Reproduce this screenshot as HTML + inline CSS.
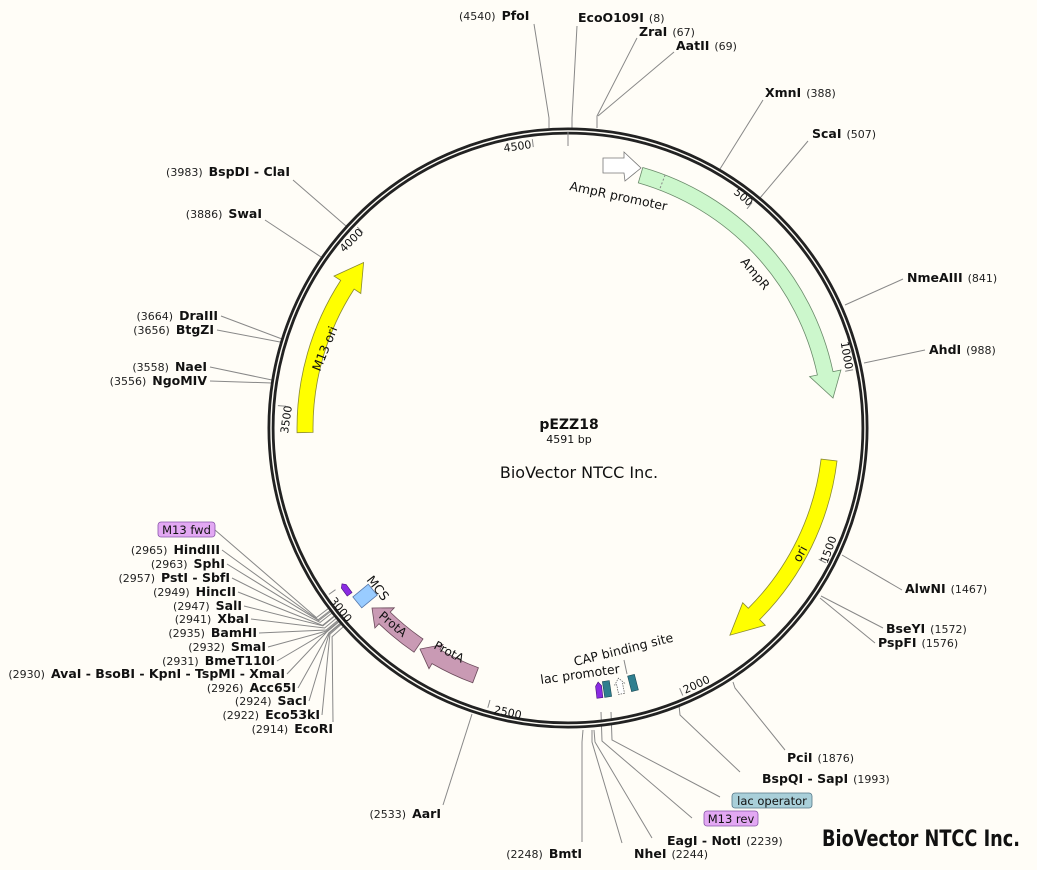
<!DOCTYPE html>
<html><head><meta charset="utf-8"><style>
html,body{margin:0;padding:0;background:#fffdf7;}
svg{display:block;}
text{font-family:"DejaVu Sans","Liberation Sans",sans-serif;fill:#111;}
.n{font-size:11px;fill:#222;}
.b{font-size:12.5px;font-weight:bold;}
.f{font-size:12.5px;fill:#222;}
.t{font-size:11px;fill:#222;}
line,polyline{stroke:#888;stroke-width:1;fill:none;}
</style></head><body>
<svg width="1037" height="870" viewBox="0 0 1037 870" xmlns="http://www.w3.org/2000/svg">
<rect width="1037" height="870" fill="#fffdf7"/>

<g>
<polyline points="534,24 549,118 549,128"/>
<polyline points="577,26 572,118 572,128"/>
<polyline points="637,38 597,116 597,128"/>
<polyline points="674,52 598,116"/>
<line x1="763" y1="100" x2="720" y2="169"/>
<line x1="808" y1="141" x2="760" y2="198"/>
<line x1="903" y1="279" x2="845" y2="305"/>
<line x1="925" y1="350" x2="864" y2="363"/>
<line x1="902" y1="590" x2="842" y2="555"/>
<line x1="883" y1="628" x2="821" y2="596"/>
<line x1="875" y1="643" x2="820" y2="598"/>
<polyline points="785,750 735,688 733,682"/>
<polyline points="740,772 680,715 679,705"/>
<polyline points="720,797 612,740 611,712"/>
<polyline points="692,818 602,741 601,712"/>
<polyline points="652,838 595,742 594,730"/>
<polyline points="622,843 592,742 592,730"/>
<polyline points="582,842 582,742 583,730"/>
<line x1="443" y1="805" x2="472" y2="714"/>
<line x1="293" y1="180" x2="346" y2="226"/>
<line x1="265" y1="220" x2="321" y2="257"/>
<line x1="221" y1="316" x2="282" y2="339"/>
<line x1="217" y1="330" x2="280" y2="342"/>
<line x1="210" y1="367" x2="272" y2="380"/>
<line x1="210" y1="381" x2="272" y2="383"/>
<polyline points="215,530 316.4,617.6 328.4,608.5"/>
<polyline points="222,550 318.1,619.8 330,610.6"/>
<polyline points="227,564 318.8,620.6 330.6,611.5"/>
<polyline points="232,578 320.1,622.4 331.9,613.1"/>
<polyline points="238,592 322.5,625.4 334.2,616"/>
<polyline points="244,606 322.9,625.8 334.5,616.4"/>
<polyline points="251,619 324.6,628 336.2,618.4"/>
<polyline points="259,633 326.3,630 337.8,620.4"/>
<polyline points="268,647 327,630.9 338.5,621.2"/>
<polyline points="277,661 327.4,631.3 338.9,621.7"/>
<polyline points="287,674 327.4,631.3 338.9,621.7"/>
<polyline points="298,688 328.8,633 340.2,623.2"/>
<polyline points="309,701 329.2,633.4 340.6,623.6"/>
<polyline points="322,715 329.9,634.2 341.2,624.4"/>
<polyline points="333,722 332.1,636.7 343.3,626.8"/>
</g>

<circle cx="568" cy="428" r="297" fill="none" stroke="#222" stroke-width="7"/>
<circle cx="568" cy="428" r="297" fill="none" stroke="#fffdf7" stroke-width="1.4"/>

<g stroke="#111" stroke-width="1.6">
<line x1="568" y1="132" x2="568" y2="146" stroke-width="3"/>
<line x1="752.1" y1="202.5" x2="747" y2="208.8"/>
<line x1="853.1" y1="369.7" x2="845.2" y2="371.3"/>
<line x1="825.8" y1="562.9" x2="818.7" y2="559.2"/>
<line x1="682.8" y1="695.6" x2="679.6" y2="688.2"/>
<line x1="487.8" y1="707.7" x2="490" y2="700"/>
<line x1="328.9" y1="594.4" x2="335.5" y2="589.7"/>
<line x1="277.9" y1="405.6" x2="286" y2="406.3"/>
<line x1="357.3" y1="227.1" x2="363" y2="232.8"/>
<line x1="532.3" y1="139.2" x2="533.3" y2="147.1"/>
</g>
<g class="t">
<text transform="translate(518,150) rotate(-8)" text-anchor="middle">4500</text>
<text transform="translate(741,200) rotate(40)" text-anchor="middle">500</text>
<text transform="translate(843,356) rotate(80)" text-anchor="middle">1000</text>
<text transform="translate(832,551) rotate(-70)" text-anchor="middle">1500</text>
<text transform="translate(698,688) rotate(-25)" text-anchor="middle">2000</text>
<text transform="translate(507,716) rotate(12)" text-anchor="middle">2500</text>
<text transform="translate(338,612) rotate(52)" text-anchor="middle">3000</text>
<text transform="translate(290,420) rotate(-82)" text-anchor="middle">3500</text>
<text transform="translate(354,243) rotate(-45)" text-anchor="middle">4000</text>
</g>

<path d="M603,158 L624,158 L624,152 L641,168 L625,181 L624,173 L603,173 Z" fill="#fff" stroke="#777" stroke-width="0.8"/>
<path d="M642.8,167.5 A271,271 0 0 1 833,371.6 L840.9,370 L833,398 L809.6,376.6 L817.4,375 A255,255 0 0 0 638.3,182.9 Z" fill="#ccf7cc" stroke="#6a8a6a" stroke-width="0.8"/>
<line x1="665.1" y1="175" x2="659.4" y2="190" stroke="#222" stroke-dasharray="2,2"/>
<path d="M837,461 A271,271 0 0 1 759.6,619.6 L765.3,625.3 L729.9,635.2 L742.7,602.7 L748.3,608.3 A255,255 0 0 0 821.1,459.1 Z" fill="#ffff00" stroke="#8a8a30" stroke-width="0.8"/>
<path d="M297.05,432.7 A271,271 0 0 1 340.7,280.4 L334,276.1 L363.6,262.5 L360.8,293.5 L354.1,289.1 A255,255 0 0 0 313.05,432.4 Z" fill="#ffff00" stroke="#8a8a30" stroke-width="0.8"/>
<path d="M472.7,682.8 A272,272 0 0 1 432,663.6 L429,668.7 L420,649 L443,644.5 L440,649.7 A256,256 0 0 0 478.4,667.8 Z" fill="#c99ab4" stroke="#6a4a5a" stroke-width="0.8"/>
<path d="M414,652.2 A272,272 0 0 1 379,623.7 L374.9,628 L372,608 L394.3,607.8 L390.2,612.1 A256,256 0 0 0 423,639 Z" fill="#c99ab4" stroke="#6a4a5a" stroke-width="0.8"/>
<g transform="translate(365,596) rotate(230.5)"><rect x="-7" y="-10" width="14" height="20" fill="#99ccff" stroke="#5577aa" stroke-width="0.8"/></g>
<g transform="translate(355,583) rotate(234)"><path d="M-6,-14 L4,-14 L7,-11 L4,-8 L-6,-8 Z" fill="#8a2be2" stroke="#441177" stroke-width="0.6"/></g>
<g transform="translate(599,690) rotate(173.5)"><path d="M-3,-8 L3,-8 L3,4 L0,8 L-3,4 Z" fill="#8a2be2" stroke="#441177" stroke-width="0.6"/></g>
<g transform="translate(607,689) rotate(171.5)"><rect x="-3.5" y="-8" width="7" height="16" fill="#2f7f8f" stroke="#1a4a55" stroke-width="0.6"/></g>
<g transform="translate(620,686) rotate(168.5)"><path d="M-3,-8 L3,-8 L3,2 L5,2 L0,8 L-5,2 L-3,2 Z" fill="#fff" stroke="#555" stroke-width="0.7" stroke-dasharray="1.5,1"/></g>
<g transform="translate(633,683) rotate(165.5)"><rect x="-3.5" y="-8" width="7" height="16" fill="#2f7f8f" stroke="#1a4a55" stroke-width="0.6"/></g>
<line x1="627" y1="674" x2="624" y2="660" stroke="#888"/>

<g class="f">
<text transform="translate(569,190) rotate(12)">AmpR promoter</text>
<text transform="translate(740,262) rotate(50)">AmpR</text>
<text transform="translate(800,563) rotate(-62)">ori</text>
<text transform="translate(320,372) rotate(-68)">M13 ori</text>
<text transform="translate(433,648) rotate(28)" font-size="12" fill="#222">ProtA</text>
<text transform="translate(378,617) rotate(40)" font-size="12" fill="#222">ProtA</text>
<text transform="translate(366,580) rotate(52)">MCS</text>
<text transform="translate(541,684) rotate(-8)">lac promoter</text>
<text transform="translate(575,666) rotate(-14)">CAP binding site</text>
</g>

<text x="569" y="429" text-anchor="middle" font-size="14" font-weight="bold">pEZZ18</text>
<text x="569" y="443" text-anchor="middle" font-size="11" fill="#222">4591 bp</text>
<text x="579" y="478" text-anchor="middle" font-size="16" fill="#222">BioVector NTCC Inc.</text>

<text x="459" y="20"><tspan class="n">(4540)</tspan><tspan class="b" dx="6">PfoI</tspan></text>
<text x="578" y="22"><tspan class="b">EcoO109I</tspan><tspan class="n" dx="5">(8)</tspan></text>
<text x="639" y="36"><tspan class="b">ZraI</tspan><tspan class="n" dx="5">(67)</tspan></text>
<text x="676" y="50"><tspan class="b">AatII</tspan><tspan class="n" dx="5">(69)</tspan></text>
<text x="765" y="97"><tspan class="b">XmnI</tspan><tspan class="n" dx="5">(388)</tspan></text>
<text x="812" y="138"><tspan class="b">ScaI</tspan><tspan class="n" dx="5">(507)</tspan></text>
<text x="907" y="282"><tspan class="b">NmeAIII</tspan><tspan class="n" dx="5">(841)</tspan></text>
<text x="929" y="354"><tspan class="b">AhdI</tspan><tspan class="n" dx="5">(988)</tspan></text>
<text x="905" y="593"><tspan class="b">AlwNI</tspan><tspan class="n" dx="5">(1467)</tspan></text>
<text x="886" y="633"><tspan class="b">BseYI</tspan><tspan class="n" dx="5">(1572)</tspan></text>
<text x="878" y="647"><tspan class="b">PspFI</tspan><tspan class="n" dx="5">(1576)</tspan></text>
<text x="787" y="762"><tspan class="b">PciI</tspan><tspan class="n" dx="5">(1876)</tspan></text>
<text x="762" y="783"><tspan class="b">BspQI - SapI</tspan><tspan class="n" dx="5">(1993)</tspan></text>
<rect x="732" y="793" width="80" height="15" rx="3" fill="#a9cfd9" stroke="#557788" stroke-width="0.8"/>
<text x="772" y="805" text-anchor="middle" font-size="11.5" fill="#222">lac operator</text>
<rect x="704" y="811" width="54" height="15" rx="3" fill="#e3a8f3" stroke="#8855aa" stroke-width="0.8"/>
<text x="731" y="823" text-anchor="middle" font-size="11.5" fill="#222">M13 rev</text>
<text x="667" y="845"><tspan class="b">EagI - NotI</tspan><tspan class="n" dx="5">(2239)</tspan></text>
<text x="634" y="858"><tspan class="b">NheI</tspan><tspan class="n" dx="5">(2244)</tspan></text>
<text x="582" y="858" text-anchor="end"><tspan class="n">(2248)</tspan><tspan class="b" dx="6">BmtI</tspan></text>
<text x="441" y="818" text-anchor="end"><tspan class="n">(2533)</tspan><tspan class="b" dx="6">AarI</tspan></text>
<text x="822" y="846" font-family="Liberation Sans, sans-serif" font-weight="bold" font-size="22" textLength="198" lengthAdjust="spacingAndGlyphs" fill="#000">BioVector NTCC Inc.</text>

<text x="290" y="176" text-anchor="end"><tspan class="n">(3983)</tspan><tspan class="b" dx="6">BspDI - ClaI</tspan></text>
<text x="262" y="218" text-anchor="end"><tspan class="n">(3886)</tspan><tspan class="b" dx="6">SwaI</tspan></text>
<text x="218" y="320" text-anchor="end"><tspan class="n">(3664)</tspan><tspan class="b" dx="6">DraIII</tspan></text>
<text x="214" y="334" text-anchor="end"><tspan class="n">(3656)</tspan><tspan class="b" dx="6">BtgZI</tspan></text>
<text x="207" y="371" text-anchor="end"><tspan class="n">(3558)</tspan><tspan class="b" dx="6">NaeI</tspan></text>
<text x="207" y="385" text-anchor="end"><tspan class="n">(3556)</tspan><tspan class="b" dx="6">NgoMIV</tspan></text>
<rect x="158" y="522" width="57" height="15" rx="3" fill="#e3a8f3" stroke="#8855aa" stroke-width="0.8"/>
<text x="186.5" y="534" text-anchor="middle" font-size="11.5" fill="#222">M13 fwd</text>
<text x="220" y="554" text-anchor="end"><tspan class="n">(2965)</tspan><tspan class="b" dx="6">HindIII</tspan></text>
<text x="225" y="568" text-anchor="end"><tspan class="n">(2963)</tspan><tspan class="b" dx="6">SphI</tspan></text>
<text x="230" y="582" text-anchor="end"><tspan class="n">(2957)</tspan><tspan class="b" dx="6">PstI - SbfI</tspan></text>
<text x="236" y="596" text-anchor="end"><tspan class="n">(2949)</tspan><tspan class="b" dx="6">HincII</tspan></text>
<text x="242" y="610" text-anchor="end"><tspan class="n">(2947)</tspan><tspan class="b" dx="6">SalI</tspan></text>
<text x="249" y="623" text-anchor="end"><tspan class="n">(2941)</tspan><tspan class="b" dx="6">XbaI</tspan></text>
<text x="257" y="637" text-anchor="end"><tspan class="n">(2935)</tspan><tspan class="b" dx="6">BamHI</tspan></text>
<text x="266" y="651" text-anchor="end"><tspan class="n">(2932)</tspan><tspan class="b" dx="6">SmaI</tspan></text>
<text x="275" y="665" text-anchor="end"><tspan class="n">(2931)</tspan><tspan class="b" dx="6">BmeT110I</tspan></text>
<text x="285" y="678" text-anchor="end"><tspan class="n">(2930)</tspan><tspan class="b" dx="6">AvaI - BsoBI - KpnI - TspMI - XmaI</tspan></text>
<text x="296" y="692" text-anchor="end"><tspan class="n">(2926)</tspan><tspan class="b" dx="6">Acc65I</tspan></text>
<text x="307" y="705" text-anchor="end"><tspan class="n">(2924)</tspan><tspan class="b" dx="6">SacI</tspan></text>
<text x="320" y="719" text-anchor="end"><tspan class="n">(2922)</tspan><tspan class="b" dx="6">Eco53kI</tspan></text>
<text x="333" y="733" text-anchor="end"><tspan class="n">(2914)</tspan><tspan class="b" dx="6">EcoRI</tspan></text>
</svg>
</body></html>
